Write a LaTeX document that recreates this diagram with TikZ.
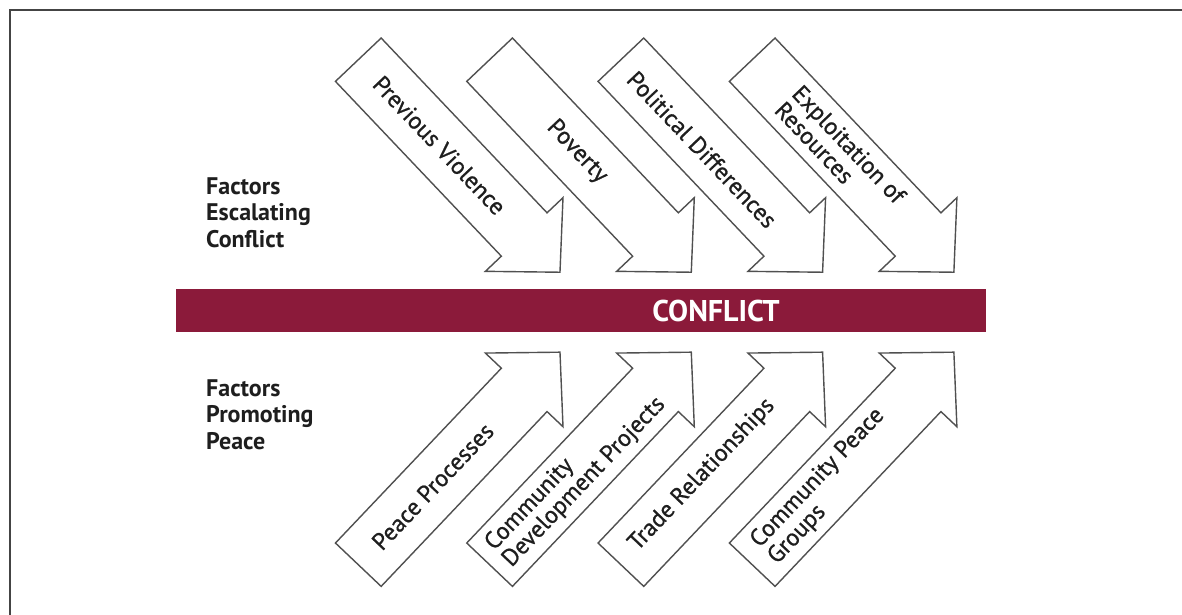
\documentclass[tikz,border=0pt]{standalone}
\usepackage{fontspec}
\setmainfont{PT Sans}
\newfontfamily\armfont[FakeBold=0.8]{PT Sans}
\definecolor{barred}{RGB}{139,26,58}
\definecolor{framegray}{RGB}{68,68,68}
\definecolor{edgegray}{RGB}{80,80,80}
\definecolor{inkblack}{RGB}{30,30,30}
\begin{document}
\begin{tikzpicture}[x=1pt,y=-1pt,
  arrowline/.style={draw=edgegray, line width=1.4pt, fill=white, line join=miter},
  fisharrow/.pic={\path[arrowline] (0,-31.5) -- (241,-31.5) -- (241,-53.5) -- (293,0) -- (241,53.5) -- (241,31.5) -- (0,31.5) -- cycle;},
  armtext/.style={font=\armfont\fontsize{24}{24}\selectfont, align=left, inner sep=0pt, text=inkblack},
  sidelabel/.style={font=\bfseries\fontsize{24}{26.5}\selectfont, align=left, inner sep=0pt, anchor=north west, text=inkblack},
]
\useasboundingbox (0,0) rectangle (1182,615);
\fill[white] (0,0) rectangle (1182,615);
% frame (top and left only)
\draw[framegray, line width=2.2pt] (10,615) -- (10,10) -- (1182,10);

% side labels
\node[sidelabel] (esc) at (206,177) {Factors\\Escalating\\Conflict};
\node[sidelabel] (pro) at (206,379) {Factors\\Promoting\\Peace};

% conflict bar
\fill[barred] (176,289.3) rectangle (986,331.7);
\node[font=\bfseries\fontsize{30}{32}\selectfont, text=white, anchor=base, inner sep=0pt] (conflict) at (716,321) {CONFLICT};

% top arrows (escalating)
\begin{scope}[shift={(358.3,59.7)}, rotate=-46.5]
  \pic[transform shape]{fisharrow};
  \node[armtext, rotate=-46.5] (t1) at (118,0) {Previous Violence};
\end{scope}
\begin{scope}[shift={(489.6,59.7)}, rotate=-46.5]
  \pic[transform shape]{fisharrow};
  \node[armtext, rotate=-46.5] (t2) at (127,0) {Poverty};
\end{scope}
\begin{scope}[shift={(620.9,59.7)}, rotate=-46.5]
  \pic[transform shape]{fisharrow};
  \node[armtext, rotate=-46.5] (t3) at (121,3) {Political Differences};
\end{scope}
\begin{scope}[shift={(752.2,59.7)}, rotate=-46.5]
  \pic[transform shape]{fisharrow};
  \node[armtext, rotate=-46.5] (t4) at (128,0) {Exploitation of\\Resources};
\end{scope}

% bottom arrows (promoting peace)
\begin{scope}[shift={(358.3,564.7)}, rotate=46.5]
  \pic[transform shape]{fisharrow};
  \node[armtext, rotate=46.5] (b1) at (108,0) {Peace Processes};
\end{scope}
\begin{scope}[shift={(489.6,564.7)}, rotate=46.5]
  \pic[transform shape]{fisharrow};
  \node[armtext, rotate=46.5] (b2) at (125,0) {Community\\Development Projects};
\end{scope}
\begin{scope}[shift={(620.9,564.7)}, rotate=46.5]
  \pic[transform shape]{fisharrow};
  \node[armtext, rotate=46.5] (b3) at (121,-3) {Trade Relationships};
\end{scope}
\begin{scope}[shift={(752.2,564.7)}, rotate=46.5]
  \pic[transform shape]{fisharrow};
  \node[armtext, rotate=46.5] (b4) at (108,0) {Community Peace\\Groups};
\end{scope}
\end{tikzpicture}
\end{document}
